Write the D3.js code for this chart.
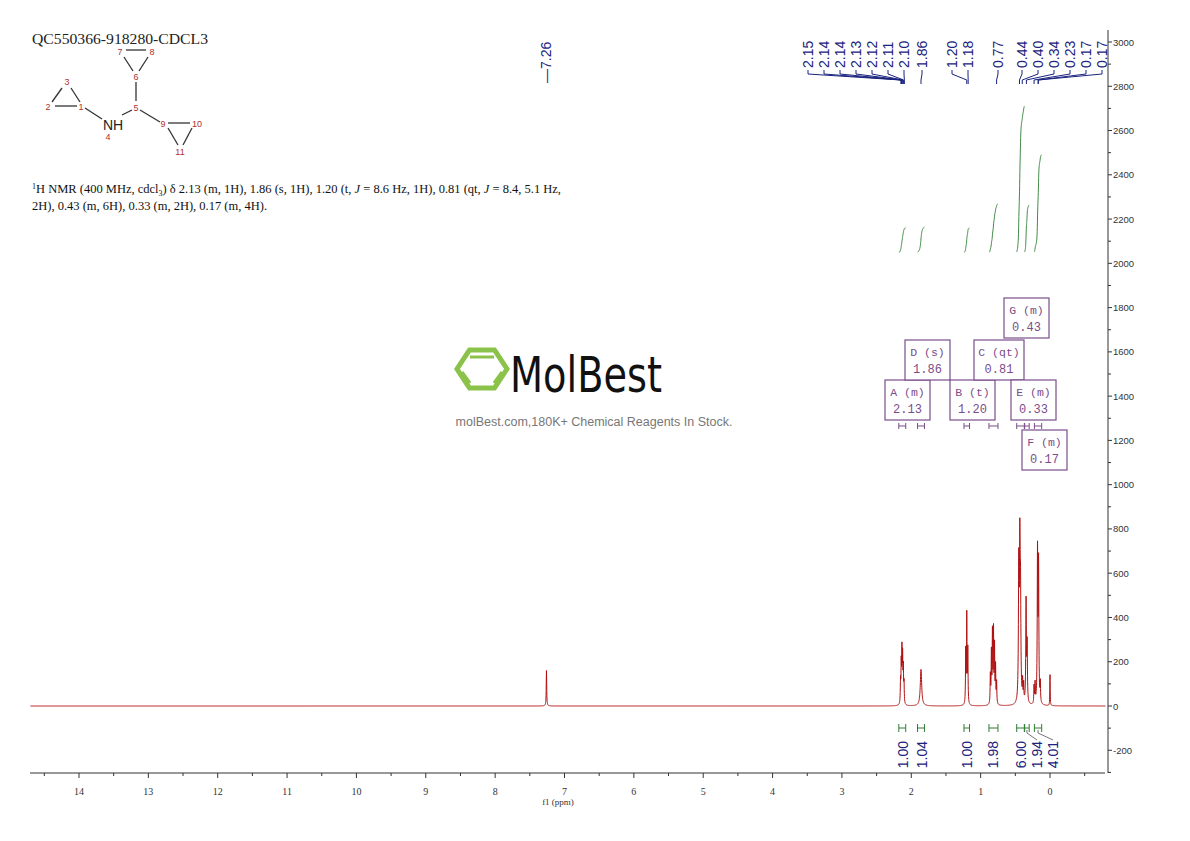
<!DOCTYPE html>
<html><head><meta charset="utf-8">
<script src="https://cdn.jsdelivr.net/npm/d3@7"></script>
<style>body{margin:0;background:#fff}</style>
</head><body>
<svg id="c" width="1190" height="841"></svg>
<script>
// ── data ────────────────────────────────────────────────────────────────
const peakPpm    = [7.26, 2.155,2.145,2.135,2.125,2.115,2.105, 1.86, 1.215,1.20,1.185, 0.86,0.845,0.83,0.815,0.80,0.785,0.77, 0.45,0.435,0.425, 0.395,0.38, 0.345,0.33, 0.23,0.215, 0.18,0.165, 0.14, 0.0];
const peakHeight = [160, 100,170,230,200,150,90, 165, 240,400,245, 130,230,320,330,260,170,100, 600,650,430, 90,80, 460,260, 80,90, 680,620, 90, 140];
const peakWidth  = [0.004, 0.004,0.004,0.004,0.004,0.004,0.004, 0.012, 0.004,0.004,0.004, 0.004,0.004,0.004,0.004,0.004,0.004,0.004, 0.006,0.006,0.006, 0.004,0.004, 0.005,0.005, 0.004,0.004, 0.005,0.005, 0.004, 0.003];

const shiftLabels = ["2.15","2.14","2.14","2.13","2.12","2.11","2.10","1.86","1.20","1.18","0.77","0.44","0.40","0.34","0.23","0.17","0.17"];
const shiftPpm    = [2.15,2.14,2.14,2.13,2.12,2.11,2.10,1.86,1.20,1.18,0.77,0.44,0.40,0.34,0.23,0.17,0.17];
const shiftLabelX = [808,824,840,856,872,888,904,922,952,968,998,1022,1038,1054,1070,1086,1102];

const intFrom   = [2.18, 1.91, 1.24, 0.88, 0.48, 0.365, 0.225];
const intTo     = [2.08, 1.81, 1.16, 0.75, 0.37, 0.30, 0.12];
const intValues = ["1.00","1.04","1.00","1.98","6.00","1.94","4.01"];

const mLetters = ["A","D","B","C","G","E","F"];
const mTypes   = ["m","s","t","qt","m","m","m"];
const mShifts  = ["2.13","1.86","1.20","0.81","0.43","0.33","0.17"];

const xTicks = d3.range(0, 15);
const yTicks = d3.range(-200, 3001, 200);

// ── layout ────────────────────────────────────────────────────────────
const svg = d3.select("#c");
const x = d3.scaleLinear().domain([14, 0]).range([79, 1050]);
const y = d3.scaleLinear().domain([0, 3000]).range([706, 42]);
const serif = "'Liberation Serif','DejaVu Serif',serif";
const mono = "'Liberation Mono','DejaVu Sans Mono',monospace";
const sans = "'Liberation Sans',Arial,sans-serif";

// spectrum as sum of Lorentzians
const spec = ppm => {
  let s = 0;
  for (let i = 0; i < peakPpm.length; i++) {
    const d = (ppm - peakPpm[i]) / peakWidth[i];
    s += peakHeight[i] / (1 + d * d);
  }
  return s;
};
const pts = [];
for (let p = 14.7; p >= -0.8; p -= 0.0015) pts.push([p, spec(p)]);
const line = d3.line().x(d => x(d[0])).y(d => y(d[1]));
svg.append("path").attr("d", line(pts)).attr("fill", "none").attr("stroke", "#b01010").attr("stroke-width", 1);

// ── axes ──────────────────────────────────────────────────────────────
const xAxis = svg.append("g").attr("transform", "translate(0,773)");
xAxis.append("line").attr("x1", 30).attr("x2", 1105).attr("stroke", "#333");
xAxis.selectAll("line.mj").data(xTicks).join("line").attr("class", "mj")
  .attr("x1", d => x(d)).attr("x2", d => x(d)).attr("y2", 5).attr("stroke", "#333");
xAxis.selectAll("line.mn").data(d3.range(-0.5, 14.6, 1)).join("line").attr("class", "mn")
  .attr("x1", d => x(d)).attr("x2", d => x(d)).attr("y2", 3).attr("stroke", "#333");
xAxis.selectAll("text").data(xTicks).join("text").attr("x", d => x(d)).attr("y", 22)
  .attr("text-anchor", "middle").attr("font-family", serif).attr("font-size", 10).attr("fill", "#333").text(d => d);
svg.append("text").attr("x", 558).attr("y", 805).attr("text-anchor", "middle")
  .attr("font-family", serif).attr("font-size", 9).attr("fill", "#333").text("f1 (ppm)");

const yAxis = svg.append("g").attr("transform", "translate(1108,0)");
yAxis.append("line").attr("y1", 30).attr("y2", 773).attr("stroke", "#333");
yAxis.selectAll("line.mj").data(yTicks).join("line").attr("class", "mj")
  .attr("y1", d => y(d)).attr("y2", d => y(d)).attr("x2", 4).attr("stroke", "#333");
yAxis.selectAll("line.mn").data(d3.range(-300, 3001, 200)).join("line").attr("class", "mn")
  .attr("y1", d => y(d)).attr("y2", d => y(d)).attr("x2", 3).attr("stroke", "#333");
yAxis.selectAll("text").data(yTicks).join("text").attr("x", 5).attr("y", d => y(d) + 3.5)
  .attr("font-family", sans).attr("font-size", 9.5).attr("fill", "#333").text(d => d);

// ── integrals ─────────────────────────────────────────────────────────
const green = "#2e7d32";
intFrom.forEach((a, i) => {
  const b = intTo[i], n = 60, val = +intValues[i];
  const cum = [];
  let s = 0;
  const step = (a - b) / n;
  for (let k = 0; k <= n; k++) { const p = a - k * step; s += spec(p); cum.push([p, s]); }
  const total = s;
  const base = 2050;
  const c = cum.map(d => [d[0], base + d[1] / total * val * 110]);
  svg.append("path").attr("d", line(c)).attr("fill", "none").attr("stroke", green).attr("stroke-width", 0.9);
  const bx0 = x(a), bx1 = x(b), by = 728;
  const br = svg.append("g").attr("stroke", green).attr("stroke-width", 1);
  br.append("line").attr("x1", bx0).attr("x2", bx1).attr("y1", by).attr("y2", by);
  br.append("line").attr("x1", bx0).attr("x2", bx0).attr("y1", by - 4).attr("y2", by + 4);
  br.append("line").attr("x1", bx1).attr("x2", bx1).attr("y1", by - 4).attr("y2", by + 4);
});
const intLabelX = [903, 922, 967, 993, 1021, 1037, 1053];
intValues.forEach((v, i) => {
  const mid = (x(intFrom[i]) + x(intTo[i])) / 2;
  if (Math.abs(mid - intLabelX[i]) > 3)
    svg.append("path").attr("d", `M${mid},${730}L${mid},733L${intLabelX[i]},740`).attr("fill", "none").attr("stroke", "#555").attr("stroke-width", 0.8);
  svg.append("text").attr("transform", `translate(${intLabelX[i] + 5},${741}) rotate(-90)`)
    .attr("text-anchor", "end").attr("font-family", sans).attr("font-size", 14).attr("fill", "#1a237e").text(v);
});

// ── peak shift labels ──────────────────────────────────────────────────
const navy = "#1a237e";
shiftLabels.forEach((t, i) => {
  const lx = shiftLabelX[i];
  svg.append("text").attr("transform", `translate(${lx + 5},${68}) rotate(-90)`)
    .attr("font-family", sans).attr("font-size", 14).attr("fill", navy).text(t);
  const px = x(shiftPpm[i]);
  svg.append("path").attr("d", `M${lx},70L${lx},74L${px},80L${px},84`)
    .attr("fill", "none").attr("stroke", navy).attr("stroke-width", 1);
});
svg.append("text").attr("transform", `translate(${x(7.26) + 5},${83}) rotate(-90)`)
  .attr("font-family", sans).attr("font-size", 14).attr("fill", navy).text("—7.26");

// ── multiplet boxes ───────────────────────────────────────────────────
const boxPos = [[885, 380], [905, 340], [950, 380], [974, 340], [1004, 298], [1011, 380], [1022, 430]];
const purple = "#7b4d8a";
mLetters.forEach((l, i) => {
  const [bx, by] = boxPos[i];
  const w = mTypes[i] === "qt" ? 50 : 45;
  svg.append("rect").attr("x", bx).attr("y", by).attr("width", w).attr("height", 40)
    .attr("fill", "#fff").attr("stroke", purple).attr("stroke-width", 1.2);
  svg.append("text").attr("x", bx + w / 2).attr("y", by + 16).attr("text-anchor", "middle")
    .attr("font-family", mono).attr("font-size", 11.5).attr("fill", purple).text(`${l} (${mTypes[i]})`);
  svg.append("text").attr("x", bx + w / 2).attr("y", by + 33).attr("text-anchor", "middle")
    .attr("font-family", mono).attr("font-size", 12).attr("fill", purple).text(mShifts[i]);
});
intFrom.forEach((a, i) => {
  const b = intTo[i], by = 426;
  const g = svg.append("g").attr("stroke", purple).attr("stroke-width", 1);
  g.append("line").attr("x1", x(a)).attr("x2", x(b)).attr("y1", by).attr("y2", by);
  g.append("line").attr("x1", x(a)).attr("x2", x(a)).attr("y1", by - 3).attr("y2", by + 3);
  g.append("line").attr("x1", x(b)).attr("x2", x(b)).attr("y1", by - 3).attr("y2", by + 3);
});

// ── header texts ──────────────────────────────────────────────────────
svg.append("text").attr("x", 32).attr("y", 44).attr("font-family", serif).attr("font-size", 15)
  .attr("textLength", 176).attr("lengthAdjust", "spacingAndGlyphs").attr("fill", "#222").text("QC550366-918280-CDCL3");
const nmr = svg.append("text").attr("font-family", serif).attr("font-size", 12.5).attr("fill", "#111");
nmr.append("tspan").attr("x", 32).attr("y", 193).attr("font-size", 8).attr("dy", -4).text("1");
nmr.append("tspan").attr("dy", 4).text("H NMR (400 MHz, cdcl");
nmr.append("tspan").attr("font-size", 8).attr("dy", 3).text("3");
nmr.append("tspan").attr("dy", -3).text(") δ 2.13 (m, 1H), 1.86 (s, 1H), 1.20 (t, ");
nmr.append("tspan").attr("font-style", "italic").text("J");
nmr.append("tspan").text(" = 8.6 Hz, 1H), 0.81 (qt, ");
nmr.append("tspan").attr("font-style", "italic").text("J");
nmr.append("tspan").text(" = 8.4, 5.1 Hz,");
svg.append("text").attr("x", 32).attr("y", 210).attr("font-family", serif).attr("font-size", 12.5).attr("fill", "#111")
  .text("2H), 0.43 (m, 6H), 0.33 (m, 2H), 0.17 (m, 4H).");

// ── structure ─────────────────────────────────────────────────────────
const bonds = [[[62,88],[52,102]],[[71,88],[80,102]],[[55,106],[77,106]],[[85,108],[102,119]],
  [[122,115],[132,110]],[[136,82],[136,101]],[[133,71],[124,57]],[[139,71],[148,57]],[[126,50],[146,50]],
  [[140,110],[160,122]],[[168,123],[190,123]],[[168,128],[178,145]],[[192,128],[183,145]]];
svg.append("g").attr("stroke", "#333").attr("stroke-width", 1.3).selectAll("line").data(bonds).join("line")
  .attr("x1", d => d[0][0]).attr("y1", d => d[0][1]).attr("x2", d => d[1][0]).attr("y2", d => d[1][1]);
const atoms = [["1",81,107],["2",48,107],["3",67,82],["4",108,137],["5",136,108],["6",136,77],["7",120,52],["8",152,52],["9",163,124],["10",197,124],["11",180,152]];
svg.append("g").selectAll("text").data(atoms).join("text").attr("x", d => d[1]).attr("y", d => d[2] + 3)
  .attr("text-anchor", "middle").attr("font-family", sans).attr("font-size", 9).attr("fill", "#b03030").text(d => d[0]);
svg.append("text").attr("x", 113).attr("y", 130).attr("text-anchor", "middle").attr("font-family", sans).attr("font-size", 14).attr("fill", "#222").text("NH");

// ── watermark ─────────────────────────────────────────────────────────
const hex = d3.range(6).map(k => [482 + 25 * Math.cos(k * Math.PI / 3), 369 + 22 * Math.sin(k * Math.PI / 3)]);
svg.append("path").attr("d", "M" + hex.join("L") + "Z").attr("fill", "none").attr("stroke", "#8bc34a").attr("stroke-width", 5);
svg.append("path").attr("d", "M470,357L494,357M462,372L470,383M502,372L494,383").attr("stroke", "#8bc34a").attr("stroke-width", 3).attr("fill", "none");
svg.append("text").attr("x", 510).attr("y", 392).attr("font-family", "'DejaVu Sans Condensed','DejaVu Sans',sans-serif")
  .attr("font-size", 50).attr("textLength", 152).attr("lengthAdjust", "spacingAndGlyphs").attr("fill", "#111").text("MolBest");
svg.append("text").attr("x", 594).attr("y", 426).attr("text-anchor", "middle").attr("font-family", sans)
  .attr("font-size", 12.5).attr("fill", "#777").text("molBest.com,180K+ Chemical Reagents In Stock.")
</script>
</body></html>
